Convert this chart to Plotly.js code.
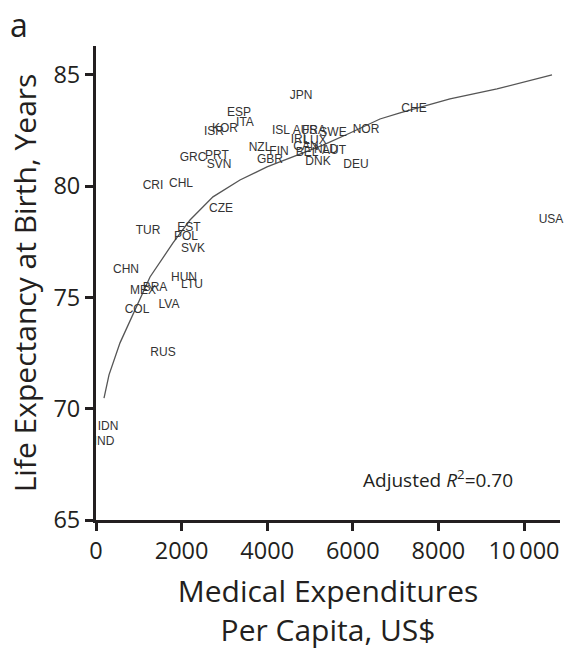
<!DOCTYPE html>
<html>
<head>
<meta charset="utf-8">
<script src="https://cdn.plot.ly/plotly-3.0.1.min.js"></script>
<style>html,body{margin:0;padding:0;background:#fff;}#chart{width:566px;height:653px;}</style>
</head>
<body>
<div id="chart"></div>
<script>
// Country labels (OECD + others)
const countries = ["JPN","CHE","ESP","ITA","KOR","ISR","ISL","AUS","FRA","SWE","NOR","IRL","LUX","CAN","NLD","AUT","BEL","DNK","DEU","NZL","FIN","GBR","GRC","PRT","SVN","CRI","CHL","CZE","TUR","EST","POL","SVK","CHN","HUN","LTU","BRA","MEX","COL","LVA","RUS","IDN","IND","USA"];
// Medical expenditures per capita, US$
const spending = [4790,7430,3341,3481,3014,2757,4322,4883,5093,5537,6308,4766,5117,4906,5374,5561,4930,5187,6075,3832,4276,4065,2266,2827,2874,1332,1986,2921,1215,2173,2103,2266,701,2056,2243,1378,1098,958,1706,1565,280,187,10631];
// Life expectancy at birth, years
const lifeExp = [84.06,83.47,83.29,82.84,82.57,82.44,82.48,82.48,82.48,82.39,82.53,82.08,82.03,81.76,81.63,81.58,81.49,81.09,80.96,81.72,81.54,81.18,81.27,81.36,80.96,80.01,80.10,78.98,77.99,78.12,77.72,77.18,76.24,75.88,75.56,75.43,75.29,74.44,74.66,72.51,69.18,68.51,78.48];
// Fitted curve
const fitX = [187,304,561,911,1262,1799,2196,2733,3364,3995,4766,5304,5935,6635,7103,8271,9369,10654];
const fitY = [70.48,71.52,72.96,74.44,75.92,77.45,78.48,79.52,80.28,80.87,81.45,81.85,82.39,83.02,83.29,83.92,84.37,85.0];
// Axis ticks
const xTickVals = [0,2000,4000,6000,8000,10000];
const xTickText = ["0","2000","4000","6000","8000","10\u2009000"];
const yTickVals = [65,70,75,80,85];

const ink = "#231f20";
const traces = [
  {x: fitX, y: fitY, mode: "lines", line: {color: "#555555", width: 1.3}, hoverinfo: "skip", showlegend: false},
  {x: spending, y: lifeExp, text: countries, mode: "text", textposition: "middle center", cliponaxis: false,
   textfont: {family: "Liberation Sans, Arial, sans-serif", size: 12, color: "#333333"}, showlegend: false}
];

const axisFont = {family: "Open Sans, sans-serif", size: 23.5, color: ink};
const titleFont = {family: "Open Sans, sans-serif", size: 30, color: ink};
const layout = {
  width: 566, height: 653,
  margin: {l: 96, r: 6, t: 46, b: 133},
  paper_bgcolor: "#ffffff", plot_bgcolor: "#ffffff",
  xaxis: {
    range: [0, 10841], showgrid: false, zeroline: false,
    showline: true, linewidth: 3, linecolor: ink,
    ticks: "outside", ticklen: 8, tickwidth: 3, tickcolor: ink,
    tickvals: xTickVals, ticktext: xTickText, tickfont: axisFont,
    title: {text: "Medical Expenditures<br>Per Capita, US$", font: titleFont, standoff: 16}
  },
  yaxis: {
    range: [65, 86.3], showgrid: false, zeroline: false,
    showline: true, linewidth: 3, linecolor: ink,
    ticks: "outside", ticklen: 8, tickwidth: 3, tickcolor: ink,
    tickvals: yTickVals, tickfont: axisFont,
    title: {text: "Life Expectancy at Birth, Years", font: titleFont, standoff: 8}
  },
  annotations: [
    {x: 7990, y: 66.84, xref: "x", yref: "y", text: "Adjusted <i>R</i><sup>2</sup>=0.70", showarrow: false,
     font: {family: "Open Sans, sans-serif", size: 19, color: ink}},
    {x: -0.19, y: 1.045, xref: "paper", yref: "paper", xanchor: "left", yanchor: "middle", text: "a", showarrow: false,
     font: {family: "Open Sans, sans-serif", size: 32, color: ink}}
  ]
};
Plotly.newPlot("chart", traces, layout, {displayModeBar: false, staticPlot: true});
</script>
</body>
</html>
